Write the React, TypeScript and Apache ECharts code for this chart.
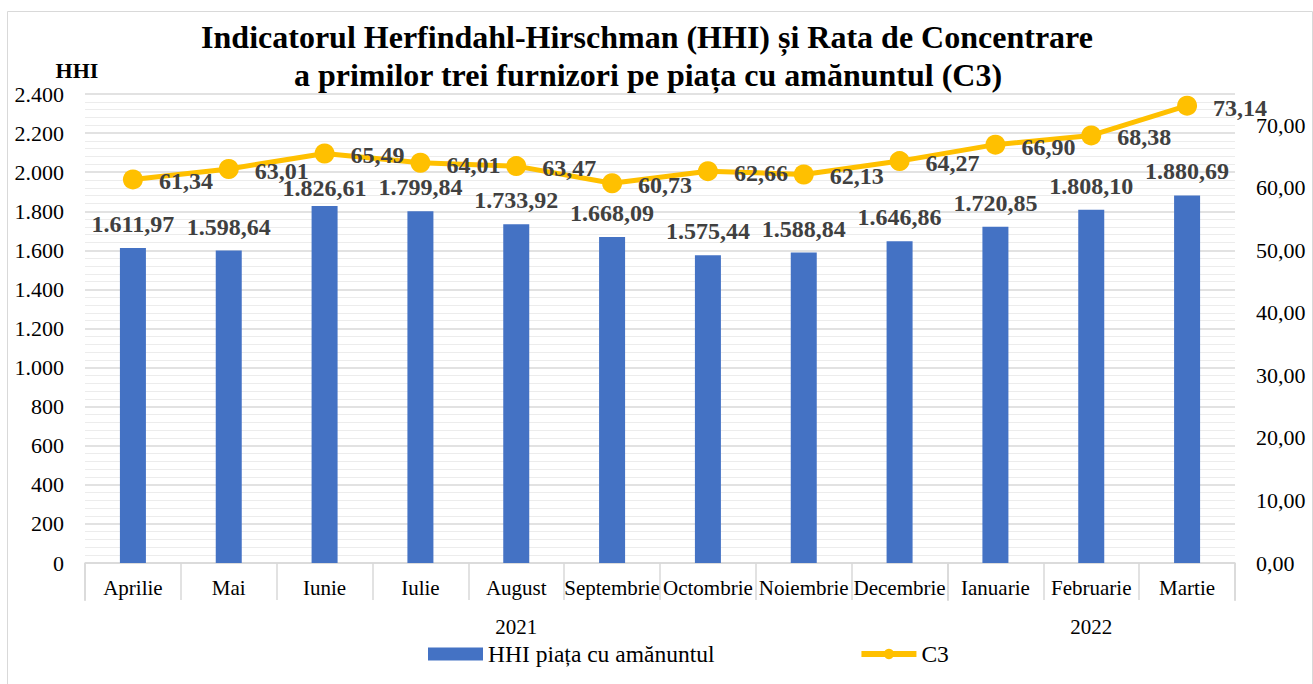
import React, { useEffect, useRef } from 'react';
import * as echarts from 'echarts';

const months = ['Aprilie', 'Mai', 'Iunie', 'Iulie', 'August', 'Septembrie', 'Octombrie', 'Noiembrie', 'Decembrie', 'Ianuarie', 'Februarie', 'Martie'];
const years = ['2021', '2021', '2021', '2021', '2021', '2021', '2021', '2021', '2021', '2022', '2022', '2022'];
const hhi = [1611.97, 1598.64, 1826.61, 1799.84, 1733.92, 1668.09, 1575.44, 1588.84, 1646.86, 1720.85, 1808.1, 1880.69];
const c3 = [61.34, 63.01, 65.49, 64.01, 63.47, 60.73, 62.66, 62.13, 64.27, 66.9, 68.38, 73.14];
const seriesNames = ['HHI piața cu amănuntul', 'C3'];
const titleLines = ['Indicatorul Herfindahl-Hirschman (HHI) și Rata de Concentrare', 'a primilor trei furnizori pe piața cu amănuntul (C3)'];
const leftAxisName = 'HHI';

const fmt = (v: number, d: number) => {
  const [i, f] = v.toFixed(d).split('.');
  const ii = i.replace(/\B(?=(\d{3})+(?!\d))/g, '.');
  return f ? ii + ',' + f : ii;
};

// label nudge (px) to mimic the manually placed label of the original
const barLabelNudge: Record<number, number> = { 2: 6 };

const FONT = 'Liberation Serif';

export default function App() {
  const ref = useRef<HTMLDivElement>(null);
  useEffect(() => {
    if (!ref.current) return;
    const chart = echarts.init(ref.current, undefined, { renderer: 'svg' });

    const boundaries: number[] = [];
    const centers: Record<number, string> = {};
    let start = 0;
    for (let i = 1; i <= years.length; i++) {
      if (i === years.length || years[i] !== years[start]) {
        boundaries.push(start);
        centers[Math.floor((start + i - 1) / 2)] = years[start];
        start = i;
      }
    }

    const gridColor = '#d9d9d9';
    const option: any = {
      animation: false,
      textStyle: { fontFamily: FONT },
      graphic: [
        { type: 'rect', shape: { x: 7.5, y: 11.5, width: 1305, height: 690 }, style: { fill: 'none', stroke: '#d9d9d9', lineWidth: 1 }, silent: true },
        { type: 'text', style: { x: 647, y: 37, text: titleLines[0], textAlign: 'center', textVerticalAlign: 'middle', fontFamily: FONT, fontWeight: 'bold', fontSize: 32, fill: '#000' } },
        { type: 'text', style: { x: 648, y: 75, text: titleLines[1], textAlign: 'center', textVerticalAlign: 'middle', fontFamily: FONT, fontWeight: 'bold', fontSize: 32, fill: '#000' } },
        { type: 'text', style: { x: 77, y: 70, text: leftAxisName, textAlign: 'center', textVerticalAlign: 'middle', fontFamily: FONT, fontWeight: 'bold', fontSize: 22, fill: '#000' } },
      ],
      grid: { left: 85, right: 78, top: 94, bottom: 121 },
      legend: {
        left: 428,
        top: 642,
        padding: 0,
        itemWidth: 55,
        itemHeight: 13,
        itemGap: 144,
        textStyle: { fontFamily: FONT, fontSize: 23.5, color: '#000' },
        data: [
          { name: seriesNames[0], icon: 'rect' },
          { name: seriesNames[1], lineStyle: { width: 6, color: '#FFC000' }, itemStyle: { color: '#FFC000' } },
        ],
      },
      xAxis: [
        {
          type: 'category',
          data: months,
          position: 'bottom',
          axisLine: { lineStyle: { color: gridColor, width: 1.5 } },
          axisTick: { show: true, length: 37, lineStyle: { color: gridColor, width: 1.5 } },
          axisLabel: { color: '#000', fontSize: 21, fontFamily: FONT, margin: 14, interval: 0 },
        },
        {
          type: 'category',
          data: months,
          position: 'bottom',
          offset: 37,
          axisLine: { show: false },
          axisTick: { show: true, length: 38, interval: (i: number) => boundaries.includes(i), lineStyle: { color: gridColor, width: 1.5 } },
          axisLabel: { color: '#000', fontSize: 21, fontFamily: FONT, margin: 16, interval: 0, formatter: (_v: string, i: number) => centers[i] ?? '' },
        },
      ],
      yAxis: [
        {
          type: 'value',
          min: 0,
          max: 2400,
          interval: 200,
          axisLine: { show: false },
          axisTick: { show: false },
          axisLabel: { color: '#000', fontSize: 22, fontFamily: FONT, margin: 21, formatter: (v: number) => fmt(v, 0) },
          splitLine: { lineStyle: { color: gridColor, width: 1.5 } },
          minorTick: { show: false, splitNumber: 5 },
          minorSplitLine: { show: true, lineStyle: { color: '#ececec', width: 1 } },
        },
        {
          type: 'value',
          min: 0,
          max: 75,
          interval: 10,
          position: 'right',
          axisLine: { show: false },
          axisTick: { show: false },
          splitLine: { show: false },
          axisLabel: { color: '#000', fontSize: 22, fontFamily: FONT, margin: 21, showMaxLabel: false, formatter: (v: number) => (v > 70 ? '' : fmt(v, 2)) },
        },
      ],
      series: [
        {
          name: seriesNames[0],
          type: 'bar',
          xAxisIndex: 0,
          yAxisIndex: 0,
          barWidth: 26,
          itemStyle: { color: '#4472C4' },
          label: { show: true, position: 'top', distance: 12, fontSize: 24, fontWeight: 'bold', color: '#404040', fontFamily: FONT, formatter: (p: any) => fmt(p.value, 2) },
          data: hhi.map((v, i) => (barLabelNudge[i] !== undefined ? { value: v, label: { offset: [0, barLabelNudge[i]] } } : v)),
          z: 2,
        },
        {
          name: seriesNames[1],
          type: 'line',
          xAxisIndex: 0,
          yAxisIndex: 1,
          symbol: 'circle',
          symbolSize: 20,
          lineStyle: { color: '#FFC000', width: 5 },
          itemStyle: { color: '#FFC000' },
          label: { show: true, position: 'right', distance: 16, offset: [0, 2], fontSize: 24, fontWeight: 'bold', color: '#404040', fontFamily: FONT, formatter: (p: any) => fmt(p.value, 2) },
          data: c3,
          z: 3,
        },
      ],
    };
    chart.setOption(option);
    return () => chart.dispose();
  }, []);
  return <div ref={ref} style={{ position: 'fixed', left: 0, top: 0, width: 1313, height: 684, background: '#fff' }} />;
}
